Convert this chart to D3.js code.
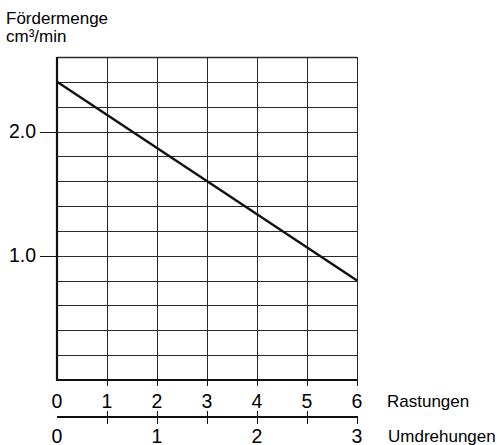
<!DOCTYPE html>
<html><head><meta charset="utf-8">
<script src="https://cdn.jsdelivr.net/npm/d3@7"></script>
<style>
html,body{margin:0;padding:0;background:#fff;}
svg{display:block;font-family:Arial,"Liberation Sans",sans-serif;}
</style></head>
<body>
<svg id="c" width="497" height="445"></svg>
<script>
const rastungen = [0, 6];
const foerdermenge = [2.4, 0.8];
const yTicks = [1.0, 2.0];
const xTicks = [0, 1, 2, 3, 4, 5, 6];
const umdrehungenLabels = [0, 1, 2, 3];
const umdrehungenTicks = [0.5, 1, 1.5, 2, 2.5, 3];

const svg = d3.select("#c");
const x = d3.scaleLinear().domain([0, 6]).range([57, 357]);
const y = d3.scaleLinear().domain([0, 2.6]).range([380, 57]);
const u = d3.scaleLinear().domain([0, 3]).range([57, 357]);
const numSize = 19.5, wordSize = 17;

// grid
const hGrid = d3.range(1, 14).map(i => +(i * 0.2).toFixed(1));
svg.append("g").selectAll("line").data(hGrid).join("line")
  .attr("x1", x(0)).attr("x2", x(6))
  .attr("y1", d => Math.round(y(d)) + 0.5).attr("y2", d => Math.round(y(d)) + 0.5)
  .attr("stroke", "#2a2a2a").attr("stroke-width", d => d === 2.6 ? 1.5 : 1);
svg.append("g").selectAll("line").data(xTicks.slice(1)).join("line")
  .attr("x1", d => Math.round(x(d)) + 0.5).attr("x2", d => Math.round(x(d)) + 0.5)
  .attr("y1", y(2.6)).attr("y2", y(0))
  .attr("stroke", "#2a2a2a").attr("stroke-width", 1);

// bottom ticks
svg.append("g").selectAll("line").data(xTicks.slice(1)).join("line")
  .attr("x1", d => Math.round(x(d)) + 0.5).attr("x2", d => Math.round(x(d)) + 0.5)
  .attr("y1", 380).attr("y2", 386)
  .attr("stroke", "#111").attr("stroke-width", 1);

// left ticks
svg.append("g").selectAll("line").data(yTicks).join("line")
  .attr("x1", 40).attr("x2", 57)
  .attr("y1", d => Math.round(y(d)) + 0.5).attr("y2", d => Math.round(y(d)) + 0.5)
  .attr("stroke", "#111").attr("stroke-width", 1);

// axes
svg.append("line").attr("x1", x(0)).attr("x2", x(0)).attr("y1", y(2.6)).attr("y2", y(0) + 1)
  .attr("stroke", "#111").attr("stroke-width", 2.2);
svg.append("line").attr("x1", x(0) - 1).attr("x2", x(6)).attr("y1", y(0)).attr("y2", y(0))
  .attr("stroke", "#111").attr("stroke-width", 2.2);

// data line
svg.append("path")
  .datum(rastungen.map((r, i) => [r, foerdermenge[i]]))
  .attr("d", d3.line().x(d => x(d[0])).y(d => y(d[1])))
  .attr("fill", "none").attr("stroke", "#111").attr("stroke-width", 2.4);

// labels
svg.append("g").selectAll("text").data(yTicks).join("text")
  .attr("x", 36).attr("y", d => y(d) + 6.5).attr("text-anchor", "end")
  .attr("font-size", numSize).attr("fill", "#000").text(d => d.toFixed(1));
svg.append("g").selectAll("text").data(xTicks).join("text")
  .attr("x", d => x(d)).attr("y", 407.5).attr("text-anchor", "middle")
  .attr("font-size", numSize).attr("fill", "#000").text(d => d);
svg.append("text").attr("x", 387).attr("y", 407).attr("font-size", wordSize).text("Rastungen");

// second axis
svg.append("line").attr("x1", u(0)).attr("x2", u(3)).attr("y1", 417).attr("y2", 417)
  .attr("stroke", "#111").attr("stroke-width", 2.2);
svg.append("g").selectAll("line").data(umdrehungenTicks).join("line")
  .attr("x1", d => Math.round(u(d)) + 0.5).attr("x2", d => Math.round(u(d)) + 0.5)
  .attr("y1", d => d === 3 ? 416 : 411).attr("y2", 424)
  .attr("stroke", "#111").attr("stroke-width", 1);
svg.append("g").selectAll("text").data(umdrehungenLabels).join("text")
  .attr("x", d => u(d)).attr("y", 442.5).attr("text-anchor", "middle")
  .attr("font-size", numSize).attr("fill", "#000").text(d => d);
svg.append("text").attr("x", 388).attr("y", 442).attr("font-size", wordSize).text("Umdrehungen");

// title
svg.append("text").attr("x", 6).attr("y", 24).attr("font-size", wordSize).text("Fördermenge");
svg.append("text").attr("x", 6).attr("y", 42).attr("font-size", wordSize).text("cm³/min");
</script>
</body></html>
